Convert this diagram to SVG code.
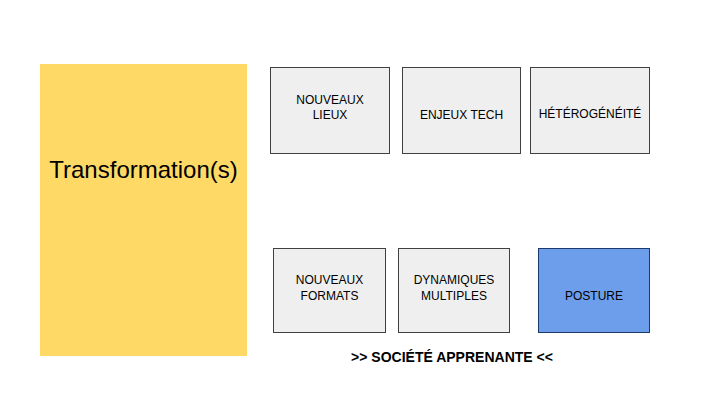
<svg xmlns="http://www.w3.org/2000/svg" width="720" height="405" viewBox="0 0 720 405">
<style>
.box{fill:#efefef;stroke:#404040;stroke-width:1}
.lbl{font-family:"Liberation Sans",Arial,sans-serif;font-size:12px;fill:#000;text-anchor:middle}
</style>
<rect width="720" height="405" fill="#fff"/>
<g id="transformation">
<rect x="40" y="64" width="207" height="292" fill="#ffd966"/>
<text x="143.5" y="178" font-family="Liberation Sans,Arial,sans-serif" font-size="24" text-anchor="middle" fill="#000">Transformation(s)</text>
</g>
<g id="nouveaux-lieux">
<rect class="box" x="270.5" y="67.5" width="119" height="86"/>
<text class="lbl" x="330" y="104">NOUVEAUX</text>
<text class="lbl" x="330" y="119">LIEUX</text>
</g>
<g id="enjeux-tech">
<rect class="box" x="402.5" y="67.5" width="118" height="86"/>
<text class="lbl" x="461.5" y="119">ENJEUX TECH</text>
</g>
<g id="heterogeneite">
<rect class="box" x="530.5" y="67.5" width="119" height="86"/>
<text class="lbl" x="590" y="118">HÉTÉROGÉNÉITÉ</text>
</g>
<g id="nouveaux-formats">
<rect class="box" x="273.5" y="248.5" width="112" height="84"/>
<text class="lbl" x="329.5" y="284">NOUVEAUX</text>
<text class="lbl" x="329.5" y="300">FORMATS</text>
</g>
<g id="dynamiques-multiples">
<rect class="box" x="398.5" y="248.5" width="111" height="84"/>
<text class="lbl" x="454" y="284">DYNAMIQUES</text>
<text class="lbl" x="454" y="300">MULTIPLES</text>
</g>
<g id="posture">
<rect x="538.5" y="248.5" width="111" height="84" fill="#6d9eeb" stroke="#1c3a6b" stroke-width="1"/>
<text class="lbl" x="594" y="300">POSTURE</text>
</g>
<g id="societe">
<text x="452" y="362" font-family="Liberation Sans,Arial,sans-serif" font-size="14" font-weight="bold" text-anchor="middle" fill="#000">&gt;&gt; SOCIÉTÉ APPRENANTE &lt;&lt;</text>
</g>
<g id="connectors"></g>
</svg>
